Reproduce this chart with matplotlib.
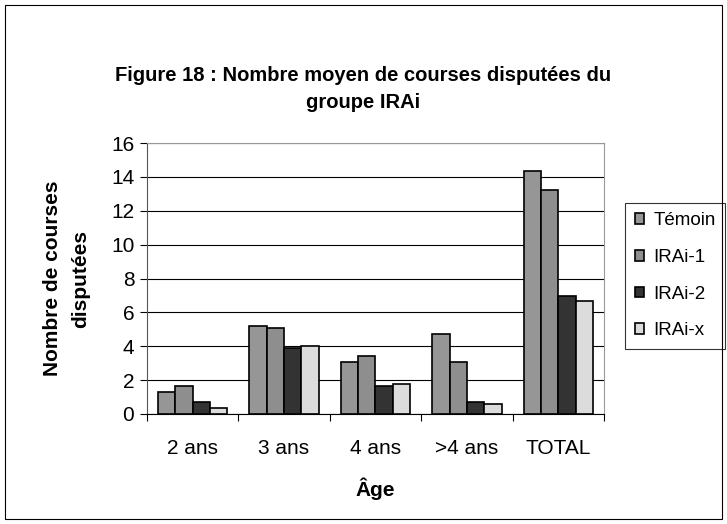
import numpy as np
import matplotlib.pyplot as plt
from matplotlib.patches import Rectangle

categories = ['2 ans', '3 ans', '4 ans', '>4 ans', 'TOTAL']
series = ['Témoin', 'IRAi-1', 'IRAi-2', 'IRAi-x']
temoin = [1.3, 5.2, 3.05, 4.7, 14.35]
irai_1 = [1.65, 5.05, 3.4, 3.05, 13.25]
irai_2 = [0.7, 3.9, 1.65, 0.7, 6.95]
irai_x = [0.35, 4.0, 1.75, 0.6, 6.7]
colors = ['#969696', '#8e8e8e', '#333333', '#dcdcdc']

plt.rcParams['font.family'] = ['Liberation Sans', 'DejaVu Sans']

fig = plt.figure(figsize=(7.27, 5.24), dpi=100)
ax = fig.add_axes([0.202, 0.21, 0.629, 0.517])

x = np.arange(len(categories))
w = 0.19
data = [temoin, irai_1, irai_2, irai_x]
for i in range(4):
    ax.bar(x + (i - 1.5) * w, data[i], w, color=colors[i], edgecolor='black',
           linewidth=1.2, label=series[i], zorder=3)

ax.set_ylim(0, 16)
ax.set_xlim(-0.5, 4.5)
ax.set_yticks(range(0, 17, 2))
ax.yaxis.grid(True, color='black', linewidth=0.8, zorder=0)
ax.set_xticks(np.arange(-0.5, 5, 1))
ax.set_xticklabels([])
ax.set_xticks(x, minor=True)
ax.set_xticklabels(categories, minor=True, fontsize=15)
ax.tick_params(axis='x', which='minor', length=0, pad=18)
ax.tick_params(axis='x', which='major', length=5, direction='out')
ax.tick_params(axis='y', length=5, direction='out', labelsize=15, pad=4)
ax.spines['top'].set_color('#999999')
ax.spines['right'].set_color('#999999')
ax.spines['left'].set_color('#555555')
ax.spines['bottom'].set_color('black')

ax.set_xlabel('Âge', fontsize=15, fontweight='bold', labelpad=14)
ax.set_ylabel('Nombre de courses\ndisputées', fontsize=15, fontweight='bold', labelpad=15,
              linespacing=1.6)
fig.text(0.5, 0.83, 'Figure 18 : Nombre moyen de courses disputées du\ngroupe IRAi',
         ha='center', va='center', fontsize=14.5, fontweight='bold', linespacing=1.5)

leg = ax.legend(loc='upper left', bbox_to_anchor=(1.046, 0.779), frameon=True,
                fancybox=False, edgecolor='black', fontsize=13.5, handlelength=0.5,
                handleheight=0.5, handletextpad=0.5, labelspacing=1.05, borderpad=0.5,
                borderaxespad=0)
leg.get_frame().set_linewidth(0.8)

fig.patches.append(Rectangle((0.007, 0.01), 0.986, 0.98, transform=fig.transFigure,
                             fill=False, edgecolor='black', linewidth=0.8))

fig.savefig('out.png', dpi=100)
